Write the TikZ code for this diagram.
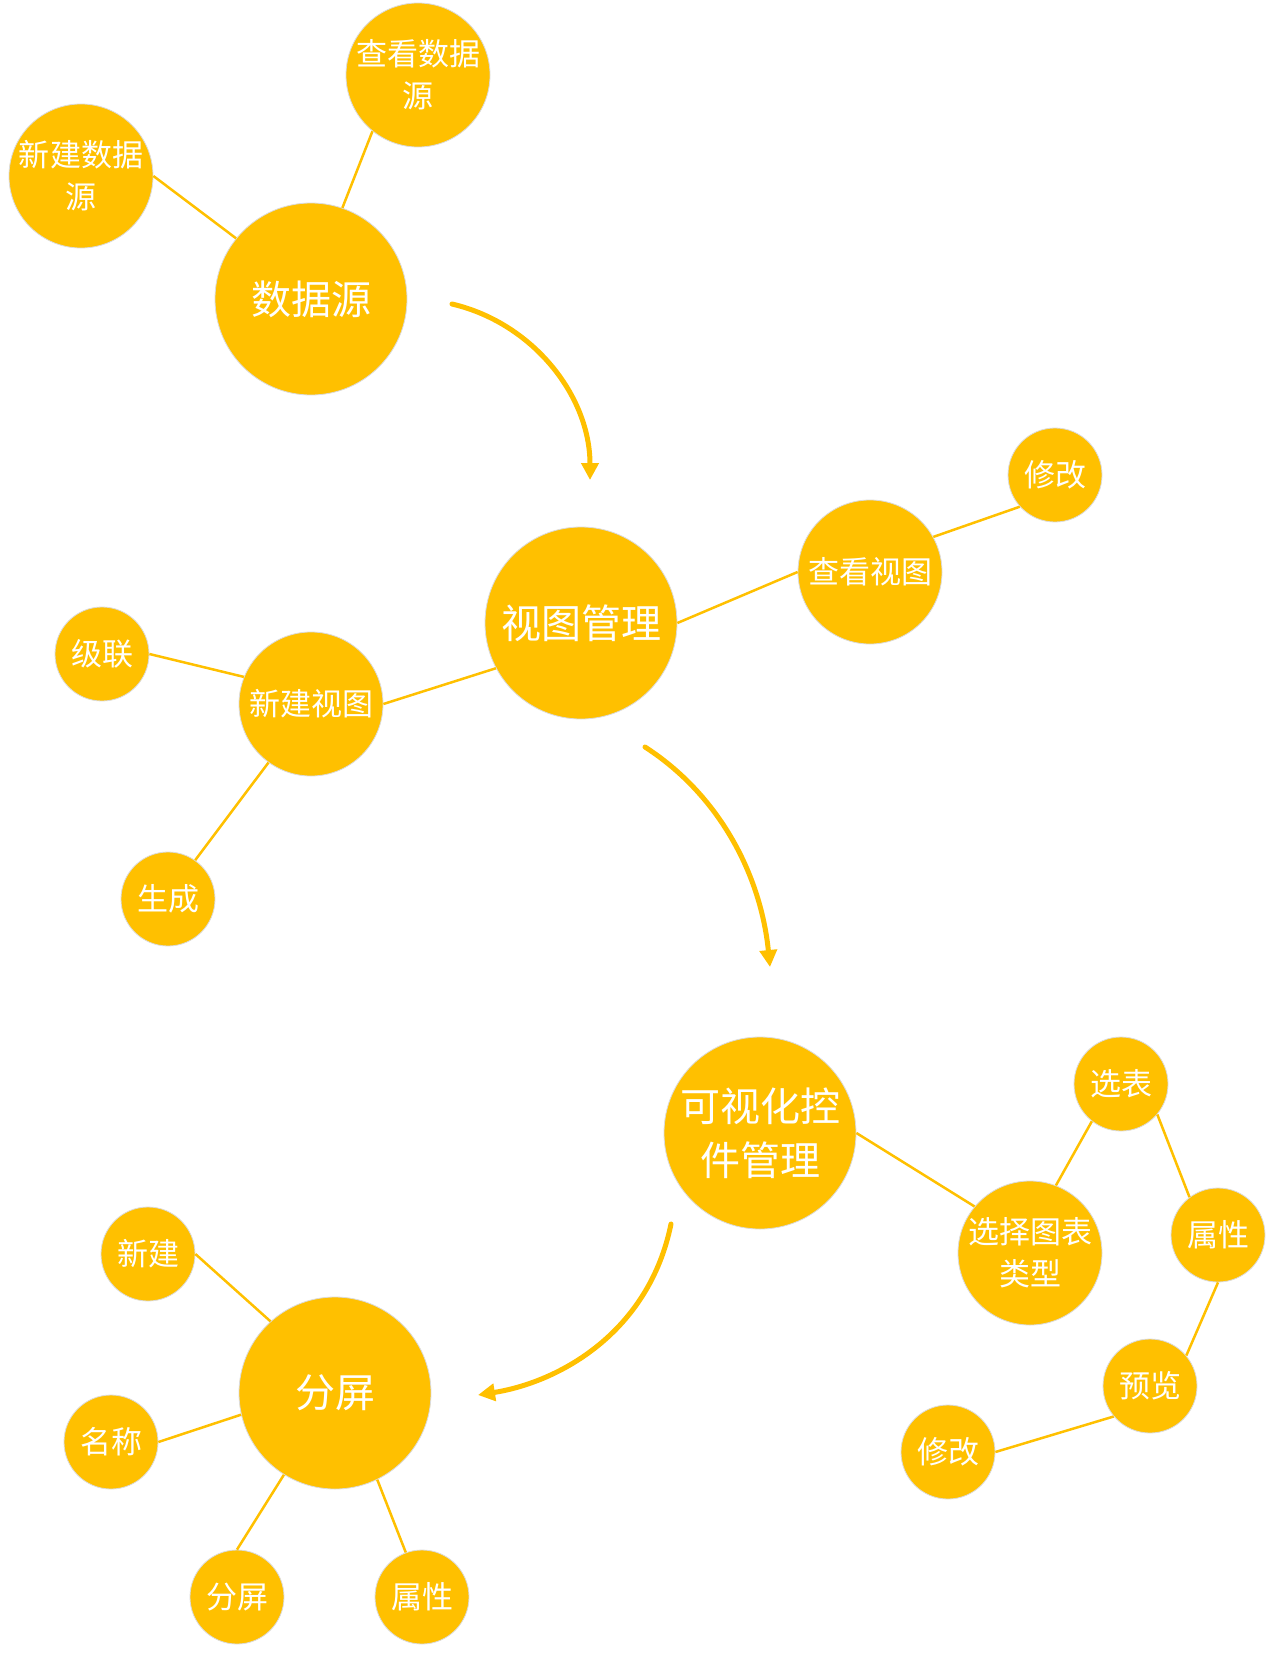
\documentclass[tikz,border=0pt]{standalone}
\usepackage{fontspec}
\setmainfont{Noto Sans CJK SC}
\usetikzlibrary{arrows.meta}
\definecolor{gold}{HTML}{FFC000}
\tikzset{
  bub/.style={circle, fill=gold, draw=black!14, line width=0.8pt, text=white,
              inner sep=0pt, align=center},
  bigbub/.style={bub, minimum size=192pt, font=\fontsize{40}{54}\selectfont},
  midbub/.style={bub, minimum size=144pt, font=\fontsize{31}{42}\selectfont},
  smallbub/.style={bub, minimum size=94pt, font=\fontsize{31}{42}\selectfont},
  link/.style={draw=gold, line width=2.5pt},
  flow/.style={draw=gold, line width=5pt, line cap=round,
               -{Triangle[length=17pt,width=17pt]}}
}
\begin{document}
\begin{tikzpicture}[x=1pt, y=-1pt]
\useasboundingbox (0,0) rectangle (1272,1654);

% data sources
\node[bigbub]   (ds)    at (311,299)  {数据源};
\node[midbub]   (dsnew) at (81,176)   {新建数据\\源};
\node[midbub]   (dsview) at (418,75)  {查看数据\\源};

% views
\node[bigbub]   (vm)    at (581,623)  {视图管理};
\node[midbub]   (vview) at (870,572)  {查看视图};
\node[smallbub] (vedit) at (1055,475) {修改};
\node[midbub]   (vnew)  at (311,704)  {新建视图};
\node[smallbub] (vcas)  at (102,654)  {级联};
\node[smallbub] (vgen)  at (168,899)  {生成};

% visual widgets
\node[bigbub]   (wm)    at (760,1133) {可视化控\\件管理};
\node[midbub]   (wtype) at (1030,1253) {选择图表\\类型};
\node[smallbub] (wtab)  at (1121,1084) {选表};
\node[smallbub] (wprop) at (1218,1235) {属性};
\node[smallbub] (wprev) at (1150,1386) {预览};
\node[smallbub] (wedit) at (948,1452) {修改};

% split screens
\node[bigbub]   (sp)     at (335,1393) {分屏};
\node[smallbub] (spnew)  at (148,1254) {新建};
\node[smallbub] (spname) at (111,1442) {名称};
\node[smallbub] (spsub)  at (237,1597) {分屏};
\node[smallbub] (spprop) at (422,1597) {属性};

% connectors between bubbles
\draw[link] (ds.141) -- (dsnew.east);
\draw[link] (ds.71) -- (dsview.231);
\draw[link] (vm.east) -- (vview.west);
\draw[link] (vview.29) -- (vedit.222);
\draw[link] (vm.208) -- (vnew.east);
\draw[link] (vnew.158) -- (vcas.east);
\draw[link] (vnew.234) -- (vgen.55);
\draw[link] (wm.east) -- (wtype.140);
\draw[link] (wtype.69) -- (wtab.232);
\draw[link] (wtab.-40) -- (wprop.127);
\draw[link] (wprop.south) -- (wprev.40);
\draw[link] (wprev.220) -- (wedit.east);
\draw[link] (sp.132) -- (spnew.east);
\draw[link] (sp.193) -- (spname.east);
\draw[link] (sp.238) -- (spsub.north);
\draw[link] (sp.296) -- (spprop.110);

% flow arrows between stages
\coordinate (a1s) at (452,304);
\coordinate (a1e) at (590,480);
\coordinate (a2s) at (645,747);
\coordinate (a2e) at (770,967);
\coordinate (a3s) at (671,1224);
\coordinate (a3e) at (478,1395);
\draw[flow] (a1s) .. controls (533,323) and (590,396) .. (a1e);
\draw[flow] (a2s) .. controls (721,796) and (761,877) .. (a2e);
\draw[flow] (a3s) .. controls (649,1332) and (560,1382) .. (a3e);
\end{tikzpicture}
\end{document}
